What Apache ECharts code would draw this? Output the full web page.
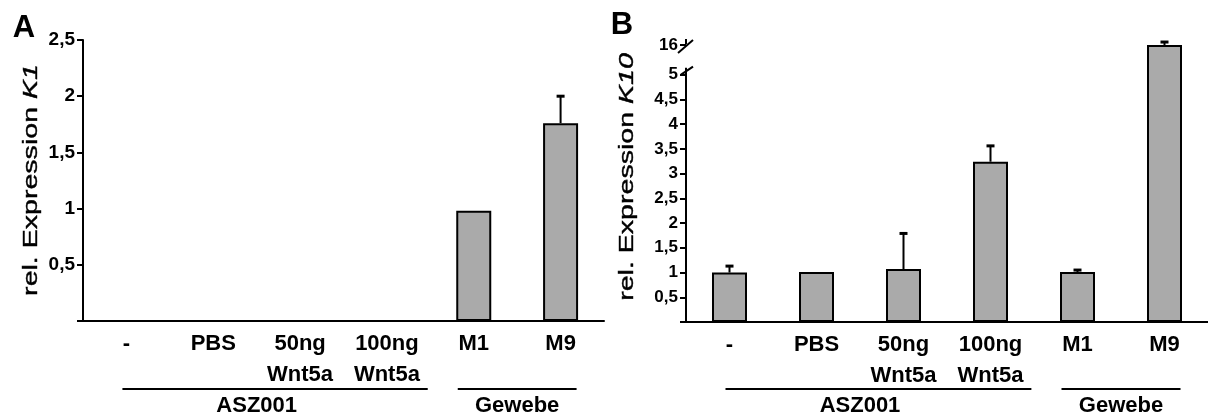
<!DOCTYPE html>
<html><head><meta charset="utf-8">
<script src="https://cdn.jsdelivr.net/npm/echarts@6/dist/echarts.min.js"></script>
<style>html,body{margin:0;padding:0;background:#fff;overflow:hidden}#c{width:1208px;height:418px}</style>
</head><body><div id="c"></div>
<script>
// ---- data ----
const categories = ['-', 'PBS', '50ng\nWnt5a', '100ng\nWnt5a', 'M1', 'M9'];
const groupNames = ['ASZ001', 'Gewebe'];
const k1Values = [null, null, null, null, 0.98, 1.76];
const k1Errors = [0, 0, 0, 0, 0, 0.24];
const k10Values = [1.0, 1.01, 1.07, 3.24, 1.01, 16.0];
const k10Errors = [0.13, 0, 0.72, 0.32, 0.04, 0.06];
const k10BreakStart = 5;
const k10BreakEnd = 16;

const FONT = '"Liberation Sans", Arial, Helvetica, sans-serif';
const chart = echarts.init(document.getElementById('c'), null, {renderer: 'canvas'});

function fmt(v) { return v === 0 ? '' : String(v).replace('.', ','); }

function errRender(params, api) {
  const e = api.value(2);
  const v = api.value(1);
  if (!e || v == null || isNaN(v)) return null;
  const p0 = api.coord([api.value(0), v]);
  const p1 = api.coord([api.value(0), v + e]);
  return {
    type: 'group',
    children: [
      {type: 'line', shape: {x1: p0[0], y1: p0[1], x2: p1[0], y2: p1[1]}, style: {stroke: '#000', lineWidth: 2}},
      {type: 'line', shape: {x1: p1[0] - 4, y1: p1[1], x2: p1[0] + 4, y2: p1[1]}, style: {stroke: '#000', lineWidth: 3}}
    ]
  };
}

const xAxisCommon = {
  type: 'category',
  data: categories,
  axisLine: {lineStyle: {color: '#000', width: 2}},
  axisTick: {show: false},
  axisLabel: {color: '#000', fontFamily: FONT, fontWeight: 'bold', fontSize: 22, lineHeight: 31, margin: 7, interval: 0},
  splitLine: {show: false}
};

const barStyle = {color: '#aaaaaa', borderColor: '#000', borderWidth: 2};

chart.setOption({
  animation: false,
  backgroundColor: '#fff',
  grid: [
    {left: 83, top: 40, width: 521, bottom: 97},
    {left: 686, top: 45, width: 528, bottom: 96}
  ],
  xAxis: [
    Object.assign({gridIndex: 0}, xAxisCommon),
    Object.assign({gridIndex: 1}, xAxisCommon)
  ],
  yAxis: [
    {
      gridIndex: 0, type: 'value', min: 0, max: 2.5, interval: 0.5,
      axisLine: {show: true, lineStyle: {color: '#000', width: 2}},
      axisTick: {show: true, length: 6, lineStyle: {color: '#000', width: 2}},
      axisLabel: {color: '#000', fontFamily: FONT, fontWeight: 'bold', fontSize: 19, margin: 8, formatter: fmt},
      splitLine: {show: false}
    },
    {
      gridIndex: 1, type: 'value', min: 0, max: 16, interval: 0.5,
      breaks: [{start: k10BreakStart, end: k10BreakEnd, gap: '10.7%'}],
      breakArea: {show: false},
      axisLine: {show: false},
      axisTick: {show: true, length: 6, lineStyle: {color: '#000', width: 2}},
      axisLabel: {color: '#000', fontFamily: FONT, fontWeight: 'bold', fontSize: 17, margin: 8, formatter: fmt},
      splitLine: {show: false}
    }
  ],
  series: [
    {type: 'bar', xAxisIndex: 0, yAxisIndex: 0, data: k1Values, barWidth: 35, itemStyle: barStyle, z: 2},
    {type: 'custom', xAxisIndex: 0, yAxisIndex: 0, renderItem: errRender, z: 3,
      data: k1Values.map((v, i) => [i, v, k1Errors[i]])},
    {type: 'bar', xAxisIndex: 1, yAxisIndex: 1, data: k10Values, barWidth: 35, itemStyle: barStyle, z: 2},
    {type: 'custom', xAxisIndex: 1, yAxisIndex: 1, renderItem: errRender, z: 3,
      data: k10Values.map((v, i) => [i, v, k10Errors[i]])}
  ]
});

// ---- decorations computed from the axes ----
function px(xi, cat) { return chart.convertToPixel({xAxisIndex: xi}, cat); }
function py(yi, v) { return chart.convertToPixel({yAxisIndex: yi}, v); }

const g = [];
function line(x1, y1, x2, y2, w) {
  g.push({type: 'line', shape: {x1, y1, x2, y2}, style: {stroke: '#000', lineWidth: w || 2}, z: 10});
}
function text(x, y, str, size, weight, extra) {
  g.push(Object.assign({type: 'text', x, y, z: 10, style: {text: str, fontFamily: FONT, fontSize: size, fontWeight: weight, fill: '#000', align: 'center', verticalAlign: 'middle'}}, extra || {}));
}

// panel letters
text(24, 28, 'A', 31, 'bold');
text(622, 25, 'B', 31, 'bold');

// axis titles (rotated)
function yTitle(x, y, gene) {
  g.push({
    type: 'text', x, y, rotation: Math.PI / 2, scaleX: 1.36, z: 10,
    style: {
      text: '{n|rel. Expression }{i|' + gene + '}',
      align: 'center', verticalAlign: 'middle',
      rich: {
        n: {fontFamily: FONT, fontSize: 21, fill: '#000', textStrokeWidth: 0.4, stroke: '#000'},
        i: {fontFamily: FONT, fontSize: 21, fontStyle: 'italic', fill: '#000', textStrokeWidth: 0.4, stroke: '#000'}
      }
    }
  });
}
yTitle(31, 180, 'K1');
yTitle(627, 177, 'K10');

// group brackets
[0, 1].forEach(function (xi) {
  const c = categories.map(cat => px(xi, cat));
  const step = c[1] - c[0];
  const lineY = 389;
  line(c[0] - 4, lineY, c[3] + step * 0.47, lineY, 2);
  line(c[4] - 16, lineY, c[5] + 16, lineY, 2);
  text((c[0] + c[3]) / 2, 406, groupNames[0], 22, 'bold');
  text((c[4] + c[5]) / 2, 406, groupNames[1], 22, 'bold');
});

// broken axis for panel B
const axX = px(1, categories[0]) - (px(1, categories[1]) - px(1, categories[0])) / 2;
const y0 = py(1, 0), y5 = py(1, k10BreakStart), y16 = py(1, k10BreakEnd);
line(axX, y0, axX, y5 - 7, 2);
line(axX - 5, y5, axX + 7, y5 - 8, 2);
line(axX - 8, y16 + 8, axX + 7, y16 - 5, 2);
line(axX, y16 - 6, axX, y16 - 1, 2);

chart.setOption({graphic: g});
</script>
</body></html>
